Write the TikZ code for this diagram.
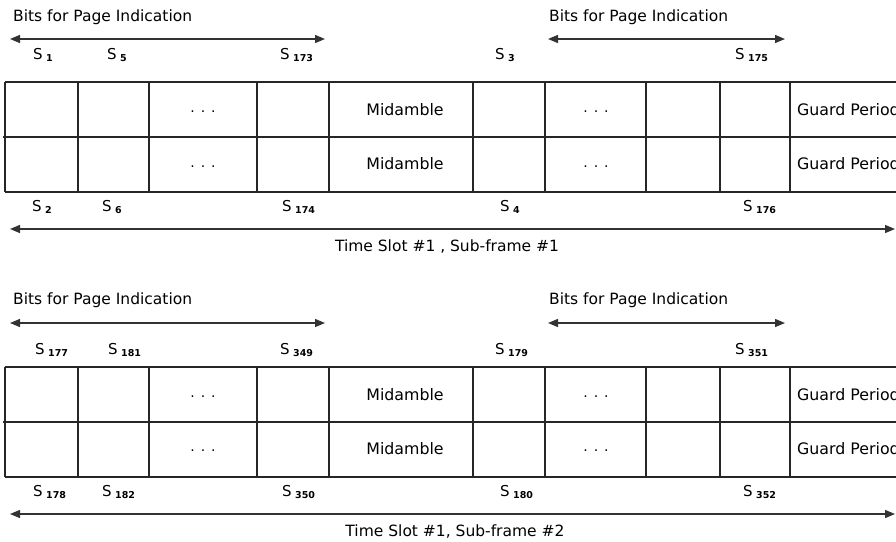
\documentclass[tikz,border=0pt]{standalone}
\usepackage{fontspec}
\setmainfont{DejaVu Sans}
\usetikzlibrary{arrows.meta}
\newcommand{\Slab}[1]{S\hspace{3.5pt}\raisebox{-2pt}{\fontsize{9.5}{9.5}\selectfont\bfseries #1}}
\tikzset{
  grid/.style={line width=1.6pt, draw=black!85},
  dimarrow/.style={line width=1.3pt, draw=black!80, {Triangle[length=10pt,width=8pt]}-{Triangle[length=10pt,width=8pt]}},
  title/.style={font=\fontsize{15.5}{17}\selectfont, anchor=west, inner sep=0pt},
  slabel/.style={font=\fontsize{15}{16}\selectfont, anchor=west, inner sep=0pt},
  celltext/.style={font=\fontsize{15.8}{17}\selectfont, inner sep=0pt},
  dots/.style={font=\fontsize{14}{16}\selectfont, inner sep=0pt},
  caption/.style={font=\fontsize{15.5}{17}\selectfont, inner sep=0pt},
}
\begin{document}
\begin{tikzpicture}[x=1pt,y=-1pt]
\useasboundingbox (0,0) rectangle (896,541);
\clip (0,0) rectangle (896,541);
\fill[white] (0,0) rectangle (896,541);

% ---------- Block 1 ----------
\node[title] (t1a) at (13,17) {Bits for Page Indication};
\node[title] (t1b) at (549,17) {Bits for Page Indication};
\coordinate (a1l) at (10,39); \coordinate (a1r) at (325,39);
\coordinate (b1l) at (548,39); \coordinate (b1r) at (785,39);
\draw[dimarrow] (a1l) -- (a1r);
\draw[dimarrow] (b1l) -- (b1r);

\node[slabel] (s1) at (33,55) {\Slab{1}};
\node[slabel] (s5) at (107,55) {\Slab{5}};
\node[slabel] (s173) at (280,55) {\Slab{173}};
\node[slabel] (s3) at (495,55) {\Slab{3}};
\node[slabel] (s175) at (735,55) {\Slab{175}};

\draw[grid] (5,82) -- (900,82);
\draw[grid] (3,137) -- (900,137);
\draw[grid] (5,192) -- (900,192);
\foreach \x in {5,78,149,257,329,473,545,646,720,790}
  \draw[grid] (\x,82) -- (\x,192);

\node[dots] (d1a) at (203,112) {.\hspace{6pt}.\hspace{6pt}.};
\node[dots] (d1b) at (203,167) {.\hspace{6pt}.\hspace{6pt}.};
\node[dots] (d1c) at (596,112) {.\hspace{6pt}.\hspace{6pt}.};
\node[dots] (d1d) at (596,167) {.\hspace{6pt}.\hspace{6pt}.};
\node[celltext] (m1a) at (405,110) {Midamble};
\node[celltext] (m1b) at (405,164) {Midamble};
\node[celltext,anchor=west] (g1a) at (797,110) {Guard Period};
\node[celltext,anchor=west] (g1b) at (797,164) {Guard Period};

\node[slabel] (s2) at (32,207) {\Slab{2}};
\node[slabel] (s6) at (102,207) {\Slab{6}};
\node[slabel] (s174) at (282,207) {\Slab{174}};
\node[slabel] (s4) at (500,207) {\Slab{4}};
\node[slabel] (s176) at (743,207) {\Slab{176}};

\coordinate (c1l) at (10,229); \coordinate (c1r) at (895,229);
\draw[dimarrow] (c1l) -- (c1r);
\node[caption] (cap1) at (447,247) {Time Slot \#1 , Sub-frame \#1};

% ---------- Block 2 ----------
\node[title] (t2a) at (13,300) {Bits for Page Indication};
\node[title] (t2b) at (549,300) {Bits for Page Indication};
\coordinate (a2l) at (10,323); \coordinate (a2r) at (325,323);
\coordinate (b2l) at (548,323); \coordinate (b2r) at (785,323);
\draw[dimarrow] (a2l) -- (a2r);
\draw[dimarrow] (b2l) -- (b2r);

\node[slabel] (s177) at (35,350) {\Slab{177}};
\node[slabel] (s181) at (108,350) {\Slab{181}};
\node[slabel] (s349) at (280,350) {\Slab{349}};
\node[slabel] (s179) at (495,350) {\Slab{179}};
\node[slabel] (s351) at (735,350) {\Slab{351}};

\draw[grid] (5,367) -- (900,367);
\draw[grid] (3,422) -- (900,422);
\draw[grid] (5,477) -- (900,477);
\foreach \x in {5,78,149,257,329,473,545,646,720,790}
  \draw[grid] (\x,367) -- (\x,477);

\node[dots] (d2a) at (203,397) {.\hspace{6pt}.\hspace{6pt}.};
\node[dots] (d2b) at (203,451) {.\hspace{6pt}.\hspace{6pt}.};
\node[dots] (d2c) at (596,397) {.\hspace{6pt}.\hspace{6pt}.};
\node[dots] (d2d) at (596,451) {.\hspace{6pt}.\hspace{6pt}.};
\node[celltext] (m2a) at (405,395) {Midamble};
\node[celltext] (m2b) at (405,449) {Midamble};
\node[celltext,anchor=west] (g2a) at (797,395) {Guard Period};
\node[celltext,anchor=west] (g2b) at (797,449) {Guard Period};

\node[slabel] (s178) at (33,492) {\Slab{178}};
\node[slabel] (s182) at (102,492) {\Slab{182}};
\node[slabel] (s350) at (282,492) {\Slab{350}};
\node[slabel] (s180) at (500,492) {\Slab{180}};
\node[slabel] (s352) at (743,492) {\Slab{352}};

\coordinate (c2l) at (10,514); \coordinate (c2r) at (895,514);
\draw[dimarrow] (c2l) -- (c2r);
\node[caption] (cap2) at (455,532) {Time Slot \#1, Sub-frame \#2};
\end{tikzpicture}
\end{document}
